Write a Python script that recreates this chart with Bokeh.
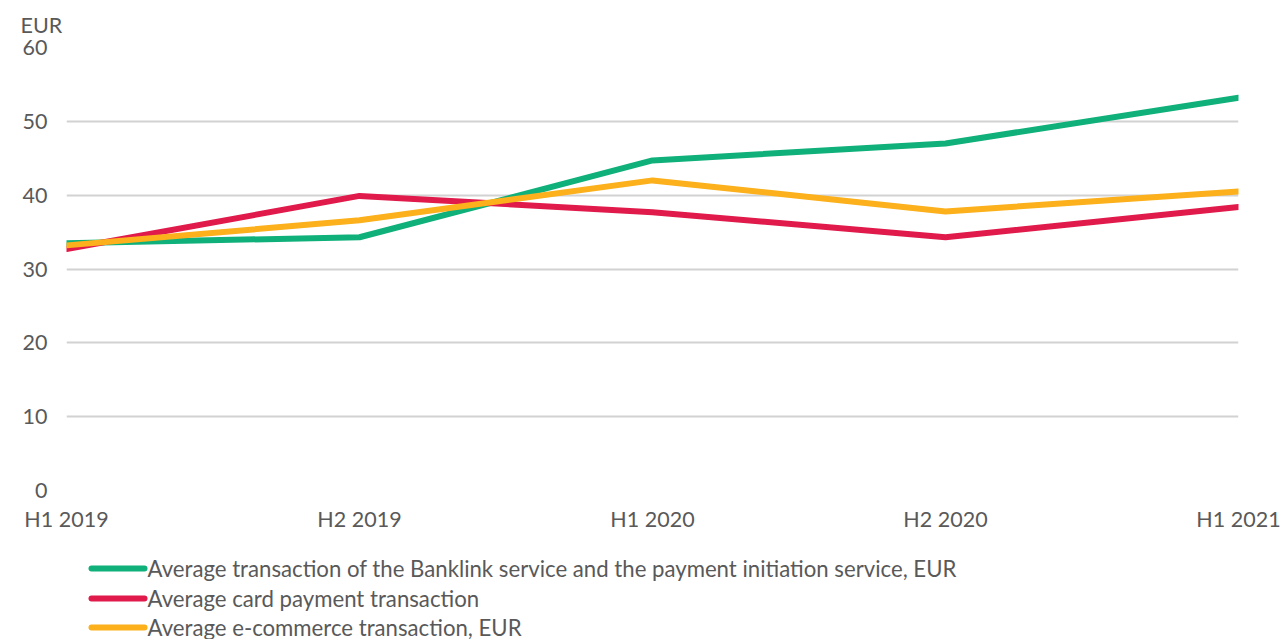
from bokeh.plotting import figure
from bokeh.layouts import column
from bokeh.models import Range1d, FixedTicker
from bokeh.core.properties import value
from bokeh.embed import file_html
from bokeh.resources import INLINE

periods = ["H1 2019", "H2 2019", "H1 2020", "H2 2020", "H1 2021"]
banklink = [33.5, 34.3, 44.7, 47.0, 53.2]
card = [32.7, 39.9, 37.7, 34.3, 38.4]
ecommerce = [33.2, 36.6, 42.0, 37.8, 40.5]
y_ticks = [0, 10, 20, 30, 40, 50, 60]

names = [
    "Average transaction of the Banklink service and the payment initiation service, EUR",
    "Average card payment transaction",
    "Average e-commerce transaction, EUR",
]
colors = ["#10B07B", "#E01A4A", "#FBB01C"]
FONT = "Lato"
TXT = "#595959"
LW = 6

p = figure(width=1281, height=555, output_backend="svg", toolbar_location=None,
           x_range=Range1d(0, len(periods) - 1), y_range=Range1d(0, 60),
           min_border_left=66, min_border_right=43, min_border_top=46, min_border_bottom=65)
p.outline_line_color = None
p.xgrid.grid_line_color = None
p.ygrid.grid_line_color = "#D2D2D2"
p.ygrid.grid_line_width = 2
p.yaxis.ticker = FixedTicker(ticks=y_ticks)
p.xaxis.ticker = FixedTicker(ticks=list(range(len(periods))))
p.xaxis.major_label_overrides = {i: s for i, s in enumerate(periods)}
for ax in (p.xaxis[0], p.yaxis[0]):
    ax.axis_line_color = None
    ax.major_tick_line_color = None
    ax.minor_tick_line_color = None
    ax.major_tick_out = 0
    ax.major_tick_in = 0
    ax.major_label_text_font = FONT
    ax.major_label_text_font_size = "21.5px"
    ax.major_label_text_color = TXT
p.yaxis.major_label_standoff = 19
p.xaxis.major_label_standoff = 15

p.title.text = "EUR"
p.title.align = "left"
p.title.offset = -46
p.title.text_font = FONT
p.title.text_font_size = "21.5px"
p.title.text_font_style = "normal"
p.title.text_color = TXT
p.title.standoff = 19

xs = list(range(len(periods)))
for ys, c in zip([banklink, card, ecommerce], colors):
    p.line(xs, ys, line_color=c, line_width=LW, line_join="round", line_cap="round")

# legend panel: its frame is aligned with the chart frame (pixels 66..1238), y downward
lg = figure(width=1281, height=84, output_backend="svg", toolbar_location=None,
            x_range=Range1d(66, 1238), y_range=Range1d(84, 0),
            min_border=0, min_border_left=66, min_border_right=43,
            min_border_top=0, min_border_bottom=0)
lg.axis.visible = False
lg.grid.visible = False
lg.outline_line_color = None
row_y = [13, 43, 72]
lg.segment(x0=[91] * 3, y0=row_y, x1=[144] * 3, y1=row_y, line_color=colors,
           line_width=LW, line_cap="round")
lg.text(x=[147] * 3, y=row_y, text=names, text_font=value(FONT), text_font_size="22.2px",
        text_color=TXT, text_baseline="middle", text_align="left")

layout = column(p, lg, spacing=0)
open("out.html", "w").write(file_html(layout, INLINE))
